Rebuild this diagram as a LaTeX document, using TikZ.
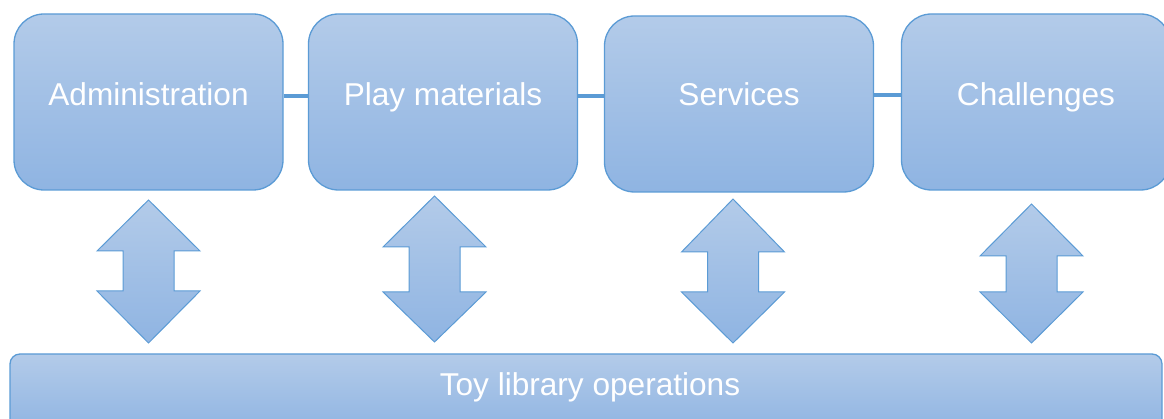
\documentclass[tikz,border=0pt]{standalone}
\usepackage{fontspec}
\setmainfont{Liberation Sans}
\definecolor{bord}{RGB}{91,155,213}
\definecolor{ftop}{RGB}{179,203,233}
\definecolor{fbot}{RGB}{143,180,226}
\newcommand\dblarr[5]{%
  \path[dbl] (#1,#2) -- (#1+51.5,#3) -- (#1+25.5,#3) -- (#1+25.5,#4) -- (#1+51.5,#4)
    -- (#1,#5) -- (#1-51.5,#4) -- (#1-25.5,#4) -- (#1-25.5,#3) -- (#1-51.5,#3) -- cycle;}
\begin{document}
\begin{tikzpicture}[x=1pt,y=-1pt,
  box/.style={draw=bord, line width=1.3pt, rounded corners=30pt, top color=ftop, bottom color=fbot,
    minimum width=269pt, minimum height=176pt, inner sep=0pt},
  basebox/.style={draw=bord, line width=1.3pt, rounded corners=10pt, top color=ftop, bottom color=fbot,
    minimum width=1152pt, minimum height=78pt, inner sep=0pt},
  lbl/.style={text=white, font=\fontsize{31.6}{36}\selectfont, anchor=base, inner sep=0pt},
  link/.style={draw=bord, line width=3.5pt},
  dbl/.style={draw=bord, line width=1pt, top color=ftop, bottom color=fbot}]
\useasboundingbox (0,0) rectangle (1164,419);
\clip (0,0) rectangle (1164,419);
% connectors
\node[box] (b1) at (148.5,102) {};
\node[box] (b2) at (443,102) {};
\node[box] (b3) at (739,104) {};
\node[box] (b4) at (1036,102) {};
\draw[link] ([yshift=6pt]b1.east) -- ([yshift=6pt]b2.west);
\draw[link] ([yshift=6pt]b2.east) -- ([yshift=8pt]b3.west);
\draw[link] ([yshift=9pt]b3.east) -- ([yshift=7pt]b4.west);
\node[lbl] (t1) at ([yshift=-3.5pt]b1.center) {Administration};
\node[lbl] (t2) at ([yshift=-3.5pt]b2.center) {Play materials};
\node[lbl] (t3) at ([yshift=-2pt]b3.center) {Services};
\node[lbl] (t4) at ([yshift=-3.5pt]b4.center) {Challenges};
% bottom box
\node[basebox] (ops) at (586,393) {};
\node[lbl] (t5) at (590,395) {Toy library operations};
% double arrows
\dblarr{148.5}{200}{251}{291}{343}
\dblarr{434.5}{196}{247}{292}{342}
\dblarr{733}{199}{252}{292}{343}
\dblarr{1031.5}{204}{256}{292}{343}
\end{tikzpicture}
\end{document}
